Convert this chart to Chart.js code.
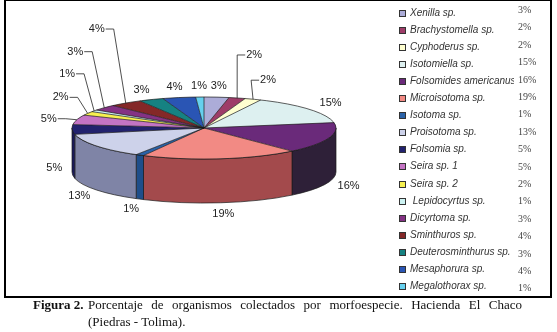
<!DOCTYPE html>
<html lang="es">
<head>
<meta charset="UTF-8">
<title>Figura 2</title>
<script src="https://cdn.jsdelivr.net/npm/chart.js"></script>
<style>
  body { margin: 0; background: #fff; }
  #wrap { position: relative; width: 557px; height: 332px; overflow: hidden; }
  #frame { position: absolute; left: 4px; top: -1px; width: 544px; height: 295px; border: 2px solid #000; }
  #pie { position: absolute; left: 0; top: 0; }
  .key { position: absolute; left: 399px; width: 7px; height: 7px; border: 1px solid #333; box-sizing: border-box; }
  .name { position: absolute; left: 410px; width: 104px; overflow: hidden; white-space: pre;
          font: italic 10px "Liberation Sans", Arial, sans-serif; color: #333; line-height: 12px; }
  .pct { position: absolute; left: 518px; font: 10px "Liberation Serif", serif; color: #444; line-height: 12px; }
  .cap { position: absolute; font: 13px "Liberation Serif", serif; color: #111; line-height: 16px; white-space: nowrap; }
</style>
</head>
<body>
<div id="wrap">
  <canvas id="pie" width="557" height="332"></canvas>
  <div id="frame"></div>
  <div id="legend"></div>
  <div class="cap" style="left:33px; top:297px;"><b>Figura 2.</b></div>
  <div class="cap" style="left:88px; top:297px; width:434px; text-align:justify; text-align-last:justify;">Porcentaje de organismos colectados por morfoespecie. Hacienda El Chaco</div>
  <div class="cap" style="left:88px; top:314px;">(Piedras - Tolima).</div>
</div>

<script>
  const species = [
    "Xenilla sp.", "Brachystomella sp.", "Cyphoderus sp.", "Isotomiella sp.",
    "Folsomides americanus", "Microisotoma sp.", "Isotoma sp.", "Proisotoma sp.",
    "Folsomia sp.", "Seira sp. 1", "Seira sp. 2", " Lepidocyrtus sp.",
    "Dicyrtoma sp.", "Sminthuros sp.", "Deuterosminthurus sp.", "Mesaphorura sp.",
    "Megalothorax sp.",
  ];

  const percents = [3, 2, 2, 15, 16, 19, 1, 13, 5, 5, 2, 1, 3, 4, 3, 4, 1];

  // top face colours and the darker wall colours (Excel 3-D pie look)
  const colors = [
    "#ACACD8", "#9E3C68", "#FFFFD0", "#DDF0F0", "#6A2A7A", "#F28A84",
    "#2A62A8", "#CDD2EA", "#22226E", "#C474C4", "#F6F050", "#CCF2F2",
    "#843284", "#842828", "#168282", "#2A55B4", "#66D0EE",
  ];
  const sideColors = [
    "#66668A", "#5E2440", "#A0A080", "#8A9898", "#2E2038", "#A34A4C",
    "#1E4E8A", "#7F84A6", "#1A1A5A", "#7A447A", "#9A9630", "#809898",
    "#501E50", "#501818", "#0E5050", "#1A3670", "#3E8096",
  ];

  // where the small slices' labels sit relative to their slice edge (leader lines)
  const leaderShift = {
    1: [17, -43], 2: [15, -19], 9: [-28, -1], 10: [-27, -16],
    11: [-27, -37], 12: [-29, -56], 13: [-29, -74],
  };

  const TILT = 0.235;
  const DEPTH = 44;

  // legend
  const legend = document.getElementById("legend");
  species.forEach((name, i) => {
    const y = 13 + i * 17.1;
    legend.insertAdjacentHTML("beforeend",
      `<div class="key" style="top:${(y - 3.5).toFixed(1)}px;background:${colors[i]}"></div>` +
      `<div class="name" style="top:${(y - 6.5).toFixed(1)}px">${name}</div>` +
      `<div class="pct" style="top:${(10 + i * 17.4 - 6).toFixed(1)}px">${percents[i]}%</div>`);
  });

  const tiltPlugin = {
    id: "tilt",
    beforeDatasetsDraw(chart) {
      const ctx = chart.ctx;
      const arcs = chart.getDatasetMeta(0).data;
      const cx = arcs[0].x, cy = arcs[0].y, r = arcs[0].outerRadius, ry = r * TILT;
      // wall of the cylinder, front half only
      arcs.forEach((arc, i) => {
        const a = Math.max(arc.startAngle, 0), b = Math.min(arc.endAngle, Math.PI);
        if (b <= a) return;
        ctx.beginPath();
        ctx.ellipse(cx, cy, r, ry, 0, a, b);
        ctx.ellipse(cx, cy + DEPTH, r, ry, 0, b, a, true);
        ctx.closePath();
        ctx.fillStyle = sideColors[i];
        ctx.fill();
        ctx.strokeStyle = "#1a1a1a";
        ctx.lineWidth = 0.7;
        ctx.stroke();
      });
      // squash the top face into an ellipse
      ctx.save();
      ctx.translate(cx, cy);
      ctx.scale(1, TILT);
      ctx.translate(-cx, -cy);
    },
    afterDatasetsDraw(chart) {
      const ctx = chart.ctx;
      ctx.restore();
      const arcs = chart.getDatasetMeta(0).data;
      const cx = arcs[0].x, cy = arcs[0].y, r = arcs[0].outerRadius, ry = r * TILT;

      ctx.strokeStyle = "#1a1a1a";
      ctx.lineWidth = 0.7;
      arcs.forEach((arc) => {
        ctx.beginPath();
        ctx.moveTo(cx, cy);
        ctx.lineTo(cx + r * Math.cos(arc.startAngle), cy + ry * Math.sin(arc.startAngle));
        ctx.stroke();
      });
      ctx.beginPath();
      ctx.ellipse(cx, cy, r, ry, 0, 0, Math.PI * 2);
      ctx.stroke();

      ctx.font = '11px "Liberation Sans", Arial, sans-serif';
      ctx.textAlign = "center";
      ctx.textBaseline = "middle";
      arcs.forEach((arc, i) => {
        const text = percents[i] + "%";
        const w = ctx.measureText(text).width;
        const mid = (arc.startAngle + arc.endAngle) / 2;
        const c = Math.cos(mid), s = Math.sin(mid);
        const ax = cx + r * c;
        const ay = cy + ry * s + (s > 0 ? DEPTH : 0);
        let lx, ly;
        if (leaderShift[i]) {
          const [dx, dy] = leaderShift[i];
          lx = ax + dx;
          ly = ay + dy;
          const edge = dx < 0 ? lx + w / 2 + 1 : lx - w / 2 - 1;
          const elbow = dx < 0 ? edge + 8 : edge - 8;
          ctx.beginPath();
          ctx.moveTo(edge, ly);
          ctx.lineTo(elbow, ly);
          ctx.lineTo(cx + r * c, cy + ry * s);
          ctx.strokeStyle = "#222";
          ctx.lineWidth = 0.8;
          ctx.stroke();
        } else {
          const gap = s < 0 ? 16 : 10;
          lx = ax + (gap + w / 2) * c;
          ly = ay + 11 * s - (Math.abs(s) < 0.2 ? 6 : 0);
        }
        ctx.fillStyle = "#222";
        ctx.fillText(text, lx, ly);
      });
    },
  };

  new Chart(document.getElementById("pie"), {
    type: "pie",
    data: {
      labels: species,
      datasets: [
        {
          data: percents,
          backgroundColor: colors,
          borderWidth: 0,
          radius: 132,
          clip: false,
        },
      ],
    },
    options: {
      responsive: false,
      animation: false,
      events: [],
      layout: { padding: { left: 72, right: 221, top: 0, bottom: 76 } },
      plugins: {
        legend: { display: false },
        tooltip: { enabled: false },
      },
    },
    plugins: [tiltPlugin],
  });
</script>
</body>
</html>
